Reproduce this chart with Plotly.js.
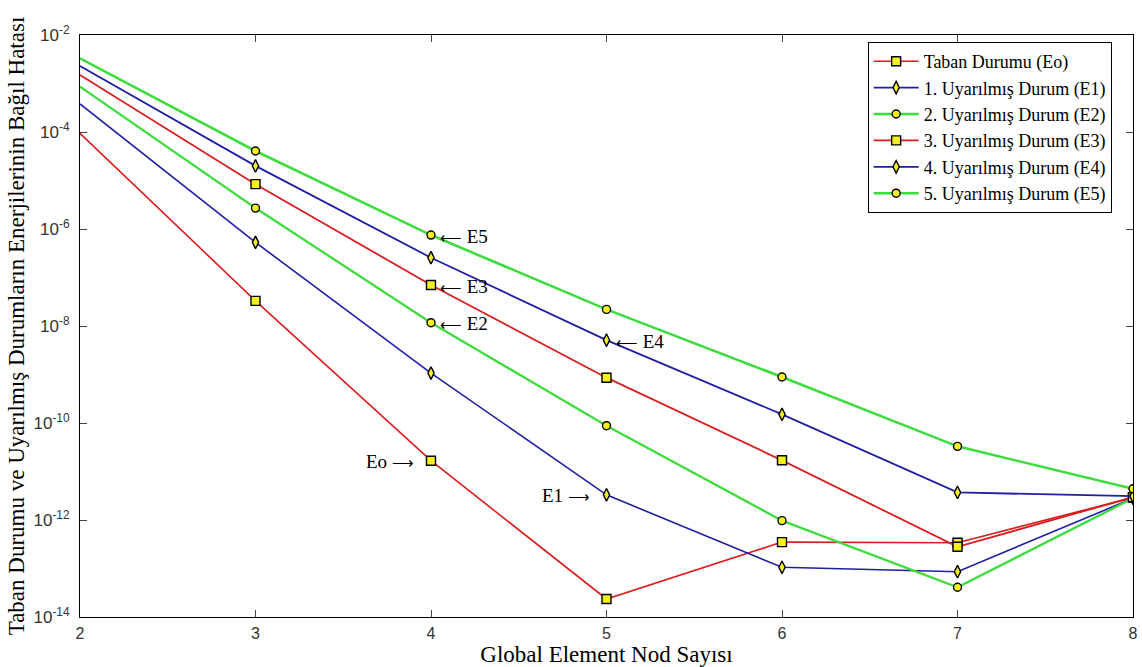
<!DOCTYPE html>
<html>
<head>
<meta charset="utf-8">
<script src="https://cdn.plot.ly/plotly-3.0.1.min.js"></script>
<style>
  html, body { margin: 0; padding: 0; background: #fff; }
  #chart { width: 1142px; height: 667px; }
</style>
</head>
<body>
<div id="chart"></div>
<script>
// Number of global element nodes
const nodes = [2, 3, 4, 5, 6, 7, 8];

// Relative error of the ground state and excited state energies
const errE0 = [9.4e-5, 3.3e-8, 1.67e-11, 2.35e-14, 3.5e-13, 3.4e-13, 2.9e-12];
const errE1 = [3.8e-4, 5.3e-7, 1.07e-9, 3.3e-12, 1.06e-13, 8.6e-14, 2.8e-12];
const errE2 = [8.6e-4, 2.7e-6, 1.17e-8, 8.8e-11, 9.7e-13, 4.1e-14, 2.8e-12];
const errE3 = [1.5e-3, 8.4e-6, 7.0e-8, 8.6e-10, 1.7e-11, 2.8e-13, 2.95e-12];
const errE4 = [2.3e-3, 2.0e-5, 2.56e-7, 5.1e-9, 1.51e-10, 3.7e-12, 3.1e-12];
const errE5 = [3.3e-3, 4.06e-5, 7.5e-7, 2.2e-8, 8.9e-10, 3.3e-11, 4.4e-12];

const seriesNames = [
  'Taban Durumu (Eo)',
  '1. Uyarılmış Durum (E1)',
  '2. Uyarılmış Durum (E2)',
  '3. Uyarılmış Durum (E3)',
  '4. Uyarılmış Durum (E4)',
  '5. Uyarılmış Durum (E5)'
];

// Log axis ticks
const yTickVals = [1e-14, 1e-12, 1e-10, 1e-8, 1e-6, 1e-4, 1e-2];
const yTickText = ['10<sup>-14</sup>', '10<sup>-12</sup>', '10<sup>-10</sup>',
                   '10<sup>-8</sup>', '10<sup>-6</sup>', '10<sup>-4</sup>', '10<sup>-2</sup>'];
const xTickVals = [2, 3, 4, 5, 6, 7, 8];

const RED = '#d81e1e', BLUE = '#1f1fa3', GREEN = '#3fdc3f';

// every node except the first one carries a marker
const markedPoints = nodes.map((n, i) => i).slice(1);

function series(name, y, color, symbol, size, width) {
  return {
    x: nodes, y: y, name: name, type: 'scatter', mode: 'lines+markers',
    line: { color: color, width: width },
    marker: { symbol: symbol, size: size, color: '#f5f01e',
              line: { color: '#000', width: 1.4 } },
    selectedpoints: markedPoints,
    selected: { marker: { opacity: 1 } },
    unselected: { marker: { opacity: 0 } }
  };
}

const traces = [
  series(seriesNames[0], errE0, RED,   'square',       9, 1.6),
  series(seriesNames[1], errE1, BLUE,  'diamond-tall', 9, 1.6),
  series(seriesNames[2], errE2, GREEN, 'circle',       8, 2.3),
  series(seriesNames[3], errE3, RED,   'square',       9, 1.8),
  series(seriesNames[4], errE4, BLUE,  'diamond-tall', 9, 1.8),
  series(seriesNames[5], errE5, GREEN, 'circle',       8, 2.6)
];

const serif = 'Liberation Serif, Times New Roman, serif';
const sans = 'Liberation Sans, Arial, sans-serif';

// Callouts naming the curves
const LEFT_ARROW = '<span style="font-size:15px">⟵</span> ';
const RIGHT_ARROW = ' <span style="font-size:15px">⟶</span>';

function callout(x, y, label, side) {
  return {
    x: x, y: Math.log10(y), xref: 'x', yref: 'y',
    text: side === 'right' ? LEFT_ARROW + label : label + RIGHT_ARROW,
    showarrow: false,
    xanchor: side === 'right' ? 'left' : 'right',
    xshift: side === 'right' ? 7 : -15,
    yshift: -1,
    font: { family: serif, size: 19, color: '#000' }
  };
}

const annotations = [
  callout(nodes[2], errE5[2], 'E5', 'right'),
  callout(nodes[2], errE3[2], 'E3', 'right'),
  callout(nodes[2], errE2[2], 'E2', 'right'),
  callout(nodes[2], errE0[2], 'Eo', 'left'),
  callout(nodes[3], errE4[3], 'E4', 'right'),
  callout(nodes[3], errE1[3], 'E1', 'left')
];

const layout = {
  width: 1142, height: 667,
  margin: { l: 80, r: 9, t: 35, b: 50 },
  paper_bgcolor: '#fff', plot_bgcolor: '#fff',
  showlegend: true,
  legend: {
    x: 0.748, y: 0.988, xanchor: 'left', yanchor: 'top',
    bgcolor: '#fff', bordercolor: '#000', borderwidth: 1,
    font: { family: serif, size: 18, color: '#000' },
    itemwidth: 45,
    tracegroupgap: 0
  },
  xaxis: {
    range: [2, 8], tickvals: xTickVals, ticks: 'inside', ticklen: 7,
    showline: true, linecolor: '#000', linewidth: 1, mirror: 'ticks',
    showgrid: false, zeroline: false, ticklabelstandoff: 2,
    tickfont: { family: sans, size: 16, color: '#333' },
    title: { text: 'Global Element Nod Sayısı', standoff: 4,
             font: { family: serif, size: 23, color: '#000' } }
  },
  yaxis: {
    type: 'log', range: [-14, -2], tickvals: yTickVals, ticktext: yTickText,
    ticks: 'inside', ticklen: 7, ticklabelstandoff: 6,
    showline: true, linecolor: '#000', linewidth: 1, mirror: 'ticks',
    showgrid: false, zeroline: false,
    tickfont: { family: sans, size: 17, color: '#333' },
    title: { text: 'Taban Durumu ve Uyarılmış Durumların Enerjilerinin Bağıl Hatası',
             standoff: 2, font: { family: serif, size: 23, color: '#000' } }
  },
  annotations: annotations
};

Plotly.newPlot('chart', traces, layout, { displayModeBar: false, staticPlot: true });
</script>
</body>
</html>
